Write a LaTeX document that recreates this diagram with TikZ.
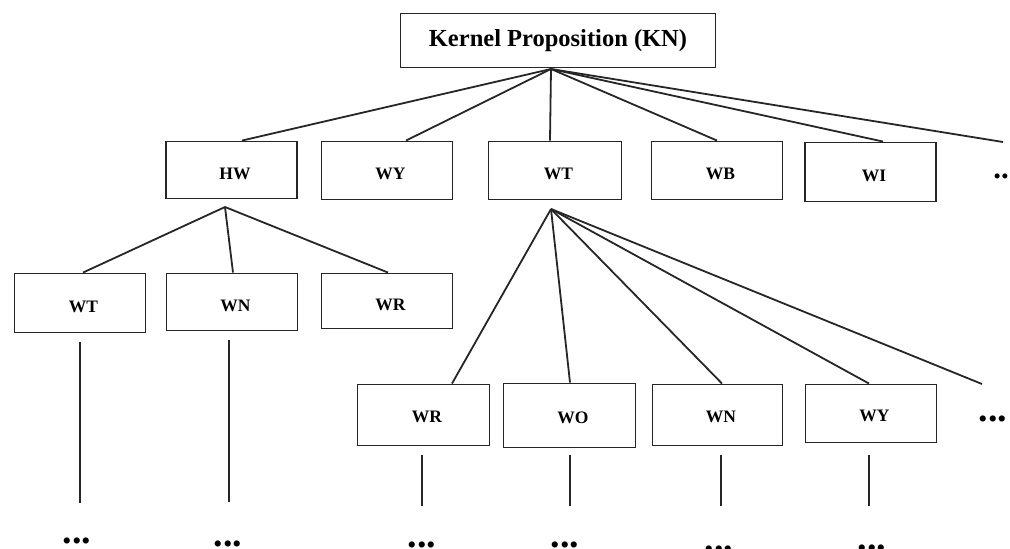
\documentclass[tikz,border=0pt]{standalone}
\usepackage{fontspec}
\setmainfont{Liberation Serif}
\begin{document}
\begin{tikzpicture}[x=1pt,y=-1pt,
  box/.style={draw=black!85, line width=1.9pt, rectangle, inner sep=0pt,
    minimum width=131pt, minimum height=57pt, text height=18.5pt, text depth=0pt,
    execute at begin node={\hspace*{7pt}},
    font=\fontsize{17.5}{20}\selectfont\bfseries},
  lowbox/.style={box, text height=15.5pt},
  link/.style={draw=black!85, line width=1.8pt},
  dots/.style={anchor=base, inner sep=0pt, font=\fontsize{38}{40}\selectfont\bfseries}]
\useasboundingbox (0,0) rectangle (1010,549);
% top node
\node[draw=black!85, line width=1.9pt, rectangle, inner sep=0pt,
  minimum width=315pt, minimum height=54pt,
  font=\fontsize{24.5}{27}\selectfont\bfseries] (kn) at (558,40.5) {Kernel Proposition (KN)};
% row 2
\node[box] (hw) at (231.5,170) {HW};
\node[box, minimum height=58pt] (wy) at (387,170.5) {WY};
\node[box, minimum width=133pt, minimum height=58pt] (wt) at (555,170.5) {WT};
\node[box, minimum height=58pt] (wb) at (717,170.5) {WB};
\node[box, minimum height=59pt] (wi) at (870.5,172) {WI};
\node[dots, font=\fontsize{31}{33}\selectfont\bfseries] (d2) at (1005,178.5) {...};
% row 3
\node[box, minimum height=59pt] (wtb) at (80,303) {WT};
\node[box] (wnb) at (232,302) {WN};
\node[box, minimum height=55pt] (wrb) at (387,301) {WR};
% row 4
\node[lowbox, minimum width=132pt, minimum height=61pt] (wrc) at (423.5,415) {WR};
\node[lowbox, minimum width=132pt, minimum height=64pt] (woc) at (569.5,415.5) {WO};
\node[lowbox, minimum width=130pt, minimum height=61pt] (wnc) at (717.5,415) {WN};
\node[lowbox, minimum height=58pt] (wyc) at (871,413.5) {WY};
\node[dots] (d4) at (993,421.5) {...};
% bottom dots
\node[dots] (b1) at (77,543.5) {...};
\node[dots] (b2) at (228,546.5) {...};
\node[dots] (b3) at (422,547.5) {...};
\node[dots] (b4) at (565,547.5) {...};
\node[dots] (b5) at (719,551) {...};
\node[dots] (b6) at (872,550) {...};
% apex and free-end coordinates
\coordinate (knA) at (551,69);
\coordinate (hwA) at (225,207);
\coordinate (wtA) at (551,209);
\coordinate (e2) at (1003,142);
\coordinate (e4) at (982,384);
\coordinate (v1) at (80,503);
\coordinate (v2) at (229,502);
\coordinate (v3) at (422,506);
\coordinate (v4) at (570,506);
\coordinate (v5) at (721,506);
\coordinate (v6) at (869,506);
% connectors from KN
\draw[link] (knA) -- ([xshift=10.5pt]hw.north);
\draw[link] (knA) -- ([xshift=19pt]wy.north);
\draw[link] (knA) -- ([xshift=-5pt]wt.north);
\draw[link] (knA) -- (wb.north);
\draw[link] (knA) -- ([xshift=12.5pt]wi.north);
\draw[link] (knA) -- (e2);
% connectors from HW
\draw[link] (hwA) -- ([xshift=3pt]wtb.north);
\draw[link] (hwA) -- ([xshift=1pt]wnb.north);
\draw[link] (hwA) -- ([xshift=1pt]wrb.north);
% connectors from WT
\draw[link] (wtA) -- ([xshift=28.5pt]wrc.north);
\draw[link] (wtA) -- ([xshift=0.5pt]woc.north);
\draw[link] (wtA) -- ([xshift=4.5pt]wnc.north);
\draw[link] (wtA) -- ([xshift=-2pt]wyc.north);
\draw[link] (wtA) -- (e4);
% vertical continuations
\draw[link] ([yshift=-9pt]wtb.south) -- (v1);
\draw[link] ([xshift=-3pt,yshift=-9pt]wnb.south) -- (v2);
\draw[link] ([xshift=-1.5pt,yshift=-9pt]wrc.south) -- (v3);
\draw[link] ([xshift=0.5pt,yshift=-7pt]woc.south) -- (v4);
\draw[link] ([xshift=3.5pt,yshift=-9pt]wnc.south) -- (v5);
\draw[link] ([xshift=-2pt,yshift=-12pt]wyc.south) -- (v6);
\end{tikzpicture}
\end{document}
